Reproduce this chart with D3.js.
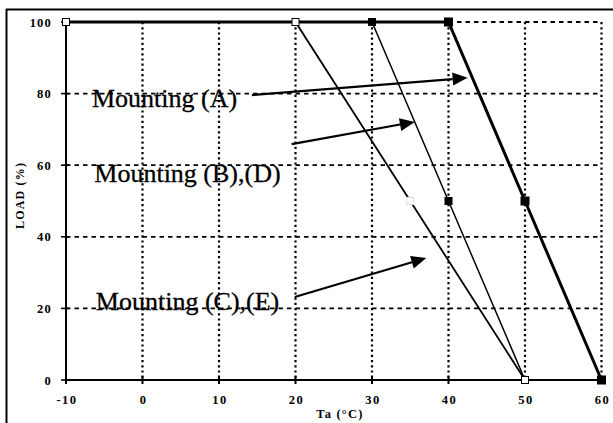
<!DOCTYPE html>
<html><head><meta charset="utf-8">
<script src="https://cdn.jsdelivr.net/npm/d3@7"></script>
<style>
html,body{margin:0;padding:0;background:#fff;}
svg{display:block;}
</style></head>
<body>
<script>
// ---- data ----
const xTicks = [-10, 0, 10, 20, 30, 40, 50, 60];
const yTicks = [0, 20, 40, 60, 80, 100];
const seriesNames = ["Mounting (A)", "Mounting (B),(D)", "Mounting (C),(E)"];
const seriesA_x = [-10, 40, 50, 60];
const seriesA_y = [100, 100, 50, 0];
const seriesB_x = [-10, 30, 40, 50];
const seriesB_y = [100, 100, 50, 0];
const seriesC_x = [-10, 20, 35, 50];
const seriesC_y = [100, 100, 50, 0];
// annotation label anchors (data units)
const labelX = [-6.6, -6.3, -6.1];
const labelY = [76.3, 55.3, 19.6];
// arrows: start and tip (data units)
const arrowX0 = [14.3, 19.5, 19.9];
const arrowY0 = [79.6, 65.9, 23.2];
const arrowX1 = [42.5, 35.6, 37.1];
const arrowY1 = [84.4, 72.1, 34.1];
const xLabel = "Ta (°C)";
const yLabel = "LOAD (%)";

// ---- drawing ----
const W = 613, H = 423;
const svg = d3.select("body").append("svg").attr("width", W).attr("height", H);
const x = d3.scaleLinear().domain([-10, 60]).range([66, 601.5]);
const y = d3.scaleLinear().domain([0, 100]).range([380, 22]);

// outer frame
svg.append("line").attr("x1", 6).attr("x2", W).attr("y1", 9.5).attr("y2", 9.5).attr("stroke", "#000").attr("stroke-width", 2);
svg.append("line").attr("x1", 6.5).attr("x2", 6.5).attr("y1", 9).attr("y2", H).attr("stroke", "#000").attr("stroke-width", 2);

const serif = "'Liberation Serif','Times New Roman',serif";

// grid: vertical dotted
svg.append("g").selectAll("line").data(xTicks.filter(d => d > -10)).join("line")
  .attr("x1", d => x(d)).attr("x2", d => x(d))
  .attr("y1", y(100)).attr("y2", y(0))
  .attr("stroke", "#000").attr("stroke-width", 2.2).attr("stroke-dasharray", "2.2,3");
// grid: horizontal dashed
svg.append("g").selectAll("line").data(yTicks.filter(d => d > 0)).join("line")
  .attr("x1", x(-10)).attr("x2", x(60))
  .attr("y1", d => y(d)).attr("y2", d => y(d))
  .attr("stroke", "#000").attr("stroke-width", 1.8).attr("stroke-dasharray", "4.5,4");

// axes lines
svg.append("line").attr("x1", x(-10)).attr("x2", x(-10)).attr("y1", y(100)).attr("y2", y(0)).attr("stroke", "#000").attr("stroke-width", 2);
svg.append("line").attr("x1", x(-10)).attr("x2", x(60)).attr("y1", y(0)).attr("y2", y(0)).attr("stroke", "#000").attr("stroke-width", 1.8);

// ticks
svg.append("g").selectAll("line").data(yTicks).join("line")
  .attr("x1", x(-10) - 5).attr("x2", x(-10) + 3)
  .attr("y1", d => y(d)).attr("y2", d => y(d)).attr("stroke", "#000").attr("stroke-width", 1.6);
svg.append("g").selectAll("line").data(xTicks).join("line")
  .attr("x1", d => x(d)).attr("x2", d => x(d))
  .attr("y1", y(0) - 4).attr("y2", y(0) + 4).attr("stroke", "#000").attr("stroke-width", 2);

// tick labels
svg.append("g").selectAll("text").data(yTicks).join("text")
  .attr("x", 52).attr("y", d => y(d) + 4.5)
  .attr("text-anchor", "end").attr("font-family", serif).attr("font-weight", "bold")
  .attr("font-size", 12.5).attr("letter-spacing", 1.2).text(d => d);
svg.append("g").selectAll("text").data(xTicks).join("text")
  .attr("x", d => x(d) + 1).attr("y", 404)
  .attr("text-anchor", "middle").attr("font-family", serif).attr("font-weight", "bold")
  .attr("font-size", 12.5).attr("letter-spacing", 1.5).text(d => d);

// axis titles
svg.append("text").attr("x", 340).attr("y", 418).attr("text-anchor", "middle")
  .attr("font-family", serif).attr("font-weight", "bold").attr("font-size", 12.5)
  .attr("letter-spacing", 1.2).text(xLabel);
svg.append("text").attr("transform", "translate(24,196) rotate(-90)").attr("text-anchor", "middle")
  .attr("font-family", serif).attr("font-size", 12).attr("font-weight", "bold")
  .attr("textLength", 66).attr("lengthAdjust", "spacing").text(yLabel);

// series
const line = d3.line().x(d => x(d[0])).y(d => y(d[1]));
const series = [
  {xs: seriesA_x, ys: seriesA_y, w: 3, m: 9, fill: "#000"},
  {xs: seriesB_x, ys: seriesB_y, w: 1.5, m: 8, fill: "#000"},
  {xs: seriesC_x, ys: seriesC_y, w: 1.8, m: 7, fill: "#fff"}
];
series.slice().reverse().forEach(s => {
  const pts = s.xs.map((v, i) => [v, s.ys[i]]);
  svg.append("path").attr("d", line(pts)).attr("fill", "none").attr("stroke", "#000").attr("stroke-width", s.w);
});
series.forEach((s, si) => {
  const pts = s.xs.map((v, i) => [v, s.ys[i]]).filter(p => !(si < 2 && p[0] === -10));
  svg.append("g").selectAll("rect").data(pts).join("rect")
    .attr("x", d => x(d[0]) - s.m / 2).attr("y", d => y(d[1]) - s.m / 2)
    .attr("width", s.m).attr("height", s.m)
    .attr("fill", s.fill)
    .attr("stroke", d => si === 2 ? (d[1] === 50 ? "#ddd" : "#000") : "none")
    .attr("stroke-width", 1);
});

// arrows
arrowX0.forEach((v, i) => {
  const x0 = x(v), y0 = y(arrowY0[i]), x1 = x(arrowX1[i]), y1 = y(arrowY1[i]);
  const a = Math.atan2(y1 - y0, x1 - x0);
  const L = 15, hw = 6.5;
  const bx = x1 - L * Math.cos(a), by = y1 - L * Math.sin(a);
  svg.append("line").attr("x1", x0).attr("y1", y0).attr("x2", bx).attr("y2", by)
    .attr("stroke", "#000").attr("stroke-width", 2.2);
  const p = [[x1, y1],
    [bx + hw * Math.sin(a), by - hw * Math.cos(a)],
    [bx - hw * Math.sin(a), by + hw * Math.cos(a)]];
  svg.append("path").attr("d", "M" + p.map(q => q.join(",")).join("L") + "Z").attr("fill", "#000");
});

// labels
seriesNames.forEach((n, i) => {
  svg.append("text").attr("x", x(labelX[i])).attr("y", y(labelY[i]))
    .attr("font-family", serif).attr("font-size", 26).attr("fill", "#000")
    .attr("stroke", "#000").attr("stroke-width", 0.3).text(n);
});
</script>
</body></html>
